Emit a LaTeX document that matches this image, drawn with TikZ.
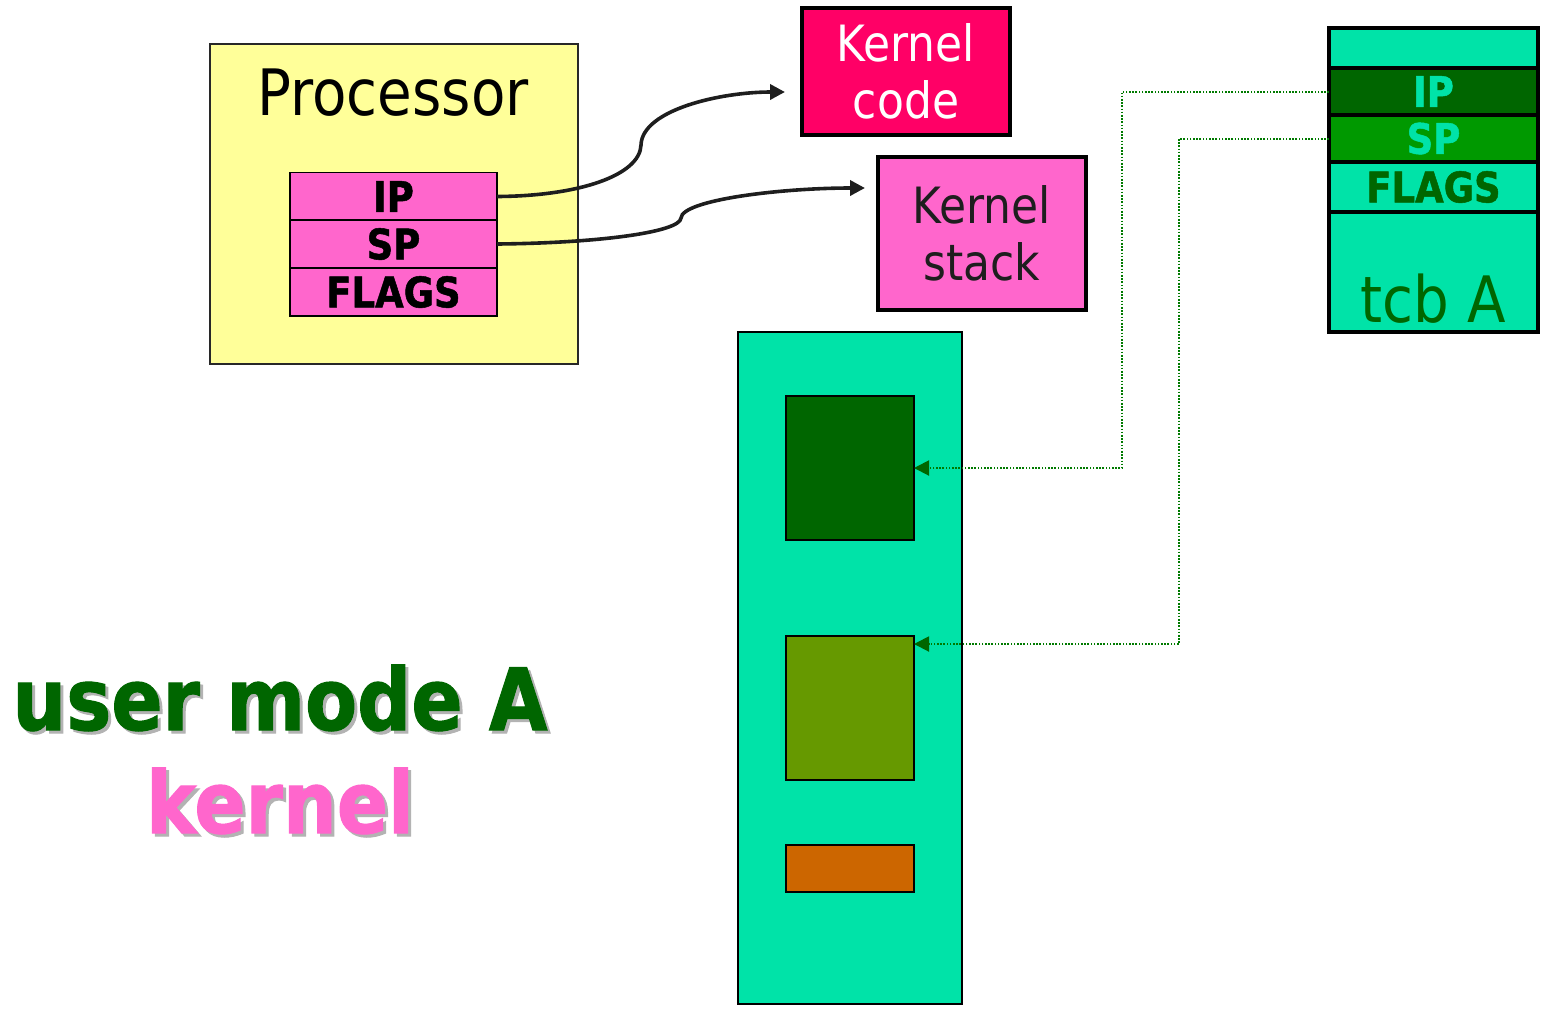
\documentclass[tikz,border=0pt]{standalone}
\usepackage{fontspec}
\usetikzlibrary{arrows.meta}
\newfontfamily\tah{DejaVu Sans}[FakeStretch=0.88,BoldFeatures={FakeBold=1.2}]
\definecolor{cyel}{HTML}{FFFF99}
\definecolor{cpink}{HTML}{FF66CC}
\definecolor{ckcode}{HTML}{FF0066}
\definecolor{cmint}{HTML}{00E3A8}
\definecolor{cdkg}{HTML}{006600}
\definecolor{cgrn}{HTML}{009900}
\definecolor{colive}{HTML}{669900}
\definecolor{corange}{HTML}{CC6600}
\definecolor{cdot}{HTML}{007A00}
\definecolor{cshadow}{HTML}{B3B3B3}
\begin{document}
\begin{tikzpicture}[x=0.5pt,y=-0.5pt,
  box/.style={rectangle,inner sep=0pt,outer sep=0pt},
  reg/.style={box,fill=cpink,draw=black,line width=0.8pt,minimum width=103.5pt,minimum height=24pt,font=\tah\bfseries\fontsize{21}{21}\selectfont},
  kbox/.style={box,draw=black,line width=1.8pt,minimum width=104pt,align=center,font=\tah\fontsize{25}{28.5}\selectfont},
  trow/.style={box,draw=black,line width=2pt,minimum width=104.5pt,font=\tah\bfseries\fontsize{21}{21}\selectfont},
  mem/.style={box,draw=black,line width=1pt,minimum width=64pt},
  curvearrow/.style={line width=1.8pt,draw={rgb,255:red,30;green,30;blue,30},-{Triangle[length=7.5pt,width=7.5pt]}},
  dotarrow/.style={cdot,line width=1pt,dash pattern=on 0.8pt off 0.8pt,-{Triangle[length=7.5pt,width=7.5pt,color=cdkg]}},
  big/.style={font=\tah\bfseries\fontsize{43}{43}\selectfont,anchor=base}
]
\useasboundingbox (0,0) rectangle (1541,1008);
% Processor
\node[box,fill=cyel,draw={rgb,255:red,40;green,40;blue,40},line width=0.8pt,minimum width=184pt,minimum height=160pt] (proc) at (394,204) {};
\node[anchor=base,font=\tah\fontsize{32}{32}\selectfont] (proct) at (393,115) {Processor};
\node[reg] (pip) at (393.5,196.5) {IP};
\node[reg] (psp) at (393.5,244) {SP};
\node[reg] (pfl) at (393.5,292) {FLAGS};
% Kernel code / stack
\node[kbox,fill=ckcode,text=white,minimum height=63.5pt] (kc) at (906,71.5) {Kernel\\code};
\node[kbox,fill=cpink,text={rgb,255:red,30;green,30;blue,30},minimum height=76.5pt] (ks) at (982,233.5) {Kernel\\stack};
% curved arrows
\coordinate (kcin) at (785,92);
\coordinate (ksin) at (865,188);
\draw[curvearrow] (pip.east) .. controls (580,196) and (640,175) .. (641,145) .. controls (642,110) and (720,92) .. (kcin);
\draw[curvearrow] (psp.east) .. controls (600,243) and (680,232) .. (681,218) .. controls (682,200) and (780,188) .. (ksin);
% tcb A
\node[trow,fill=cmint,minimum height=20pt] (ttop) at (1433.5,48) {};
\node[trow,fill=cmint,minimum height=60pt] (tbot) at (1433.5,272) {};
\node[trow,fill=cdkg,text=cmint,minimum height=23.5pt] (tip) at (1433.5,91.5) {IP};
\node[trow,fill=cgrn,text=cmint,minimum height=23.5pt] (tsp) at (1433.5,138.5) {SP};
\node[trow,fill=cmint,text=cdkg,minimum height=25pt] (tfl) at (1433.5,187) {FLAGS};
\node[anchor=base,text=cdkg,font=\tah\fontsize{32}{32}\selectfont] (tcbt) at (1433,322) {tcb A};
% memory
\node[box,fill=cmint,draw=black,line width=1pt,minimum width=112pt,minimum height=336pt] (mem) at (850,668) {};
\node[mem,fill=cdkg,minimum height=72pt] (code) at (850,468) {};
\node[mem,fill=colive,minimum height=72pt] (stk) at (850,708) {};
\node[mem,fill=corange,minimum height=23.5pt] (dat) at (850,868.5) {};
% dotted pointers
\draw[dotarrow] (tip.west) -- ++(-207,0) |- (code.east);
\draw[dotarrow] (tsp.west) -- ++(-150,0) |- ([yshift=-4pt]stk.north east);
% labels
\node[big,text=cshadow] at (283,733) {user mode A};
\node[big,text=cdkg] (umode) at (280,730) {user mode A};
\node[big,text=cshadow] at (283,836) {kernel};
\node[big,text=cpink] (kern) at (280,833) {kernel};
\end{tikzpicture}
\end{document}
